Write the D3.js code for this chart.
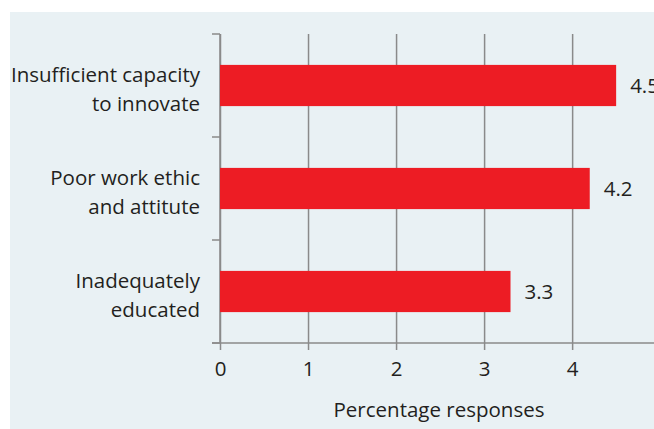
<!DOCTYPE html>
<html>
<head>
<meta charset="utf-8">
<script src="https://cdn.jsdelivr.net/npm/d3@7"></script>
<style>
  body { margin: 0; background: #fff; }
  svg text { font-family: "Open Sans", "Noto Sans", sans-serif; fill: #231f20; }
</style>
</head>
<body>
<div id="chart"></div>
<script>
const categories = [
  ['Insufficient capacity', 'to innovate'],
  ['Poor work ethic', 'and attitute'],
  ['Inadequately', 'educated']
];
const values = [4.5, 4.2, 3.3];
const xTicks = [0, 1, 2, 3, 4];
const xTitle = 'Percentage responses';

const width = 654, height = 429;
const plot = {left: 220, right: 654, top: 34, bottom: 343};
const fontSize = 20.5;

const svg = d3.select('#chart').append('svg')
  .attr('width', width)
  .attr('height', height);

// panel background
svg.append('rect')
  .attr('x', 10).attr('y', 12)
  .attr('width', width - 10).attr('height', height - 12)
  .attr('fill', '#e9f1f4');

const x = d3.scaleLinear()
  .domain([0, 4.93])
  .range([plot.left, plot.right]);

const y = d3.scaleBand()
  .domain(d3.range(categories.length))
  .range([plot.top, plot.bottom])
  .paddingInner(0.6)
  .paddingOuter(0.3);

const step = y.step();

// vertical grid lines + x axis ticks
const xAxis = d3.axisBottom(x)
  .tickValues(xTicks)
  .tickSize(plot.bottom - plot.top + 7)
  .tickPadding(10)
  .tickFormat(d3.format('d'));

const gx = svg.append('g')
  .attr('transform', 'translate(0,' + plot.top + ')')
  .call(xAxis);
gx.select('.domain').remove();
gx.selectAll('.tick line')
  .attr('stroke', '#8a8a8a')
  .attr('stroke-width', 1.5);
gx.selectAll('.tick text')
  .attr('font-size', fontSize)
  .attr('dy', '0.8em');

// horizontal axis line
svg.append('line')
  .attr('x1', plot.left - 8).attr('x2', plot.right)
  .attr('y1', plot.bottom).attr('y2', plot.bottom)
  .attr('stroke', '#8a8a8a')
  .attr('stroke-width', 1.5);

// y axis with band boundary ticks
svg.append('line')
  .attr('x1', plot.left).attr('x2', plot.left)
  .attr('y1', plot.top).attr('y2', plot.bottom)
  .attr('stroke', '#8a8a8a')
  .attr('stroke-width', 1.5);

svg.selectAll('.ytick')
  .data(d3.range(categories.length + 1))
  .enter().append('line')
  .attr('class', 'ytick')
  .attr('x1', plot.left - 8).attr('x2', plot.left)
  .attr('y1', d => plot.top + d * step)
  .attr('y2', d => plot.top + d * step)
  .attr('stroke', '#8a8a8a')
  .attr('stroke-width', 1.5);

// bars
svg.selectAll('.bar')
  .data(values)
  .enter().append('rect')
  .attr('class', 'bar')
  .attr('x', x(0))
  .attr('y', (d, i) => y(i))
  .attr('width', d => x(d) - x(0))
  .attr('height', y.bandwidth())
  .attr('fill', '#ed1c24');

// value labels
svg.selectAll('.val')
  .data(values)
  .enter().append('text')
  .attr('class', 'val')
  .attr('x', d => x(d) + 14)
  .attr('y', (d, i) => y(i) + y.bandwidth() / 2 + 7)
  .attr('font-size', fontSize)
  .text(d => d3.format('.1f')(d));

// category labels
const labels = svg.selectAll('.cat')
  .data(categories)
  .enter().append('text')
  .attr('class', 'cat')
  .attr('text-anchor', 'end')
  .attr('font-size', fontSize);

labels.selectAll('tspan')
  .data((d, i) => d.map(t => ({t: t, i: i})))
  .enter().append('tspan')
  .attr('x', 200)
  .attr('y', (d, j) => y(d.i) + y.bandwidth() / 2 - 4 + j * 29)
  .text(d => d.t);

// x title
svg.append('text')
  .attr('x', (plot.left + plot.right) / 2 + 2)
  .attr('y', 417)
  .attr('text-anchor', 'middle')
  .attr('font-size', fontSize)
  .text(xTitle);
</script>
</body>
</html>
